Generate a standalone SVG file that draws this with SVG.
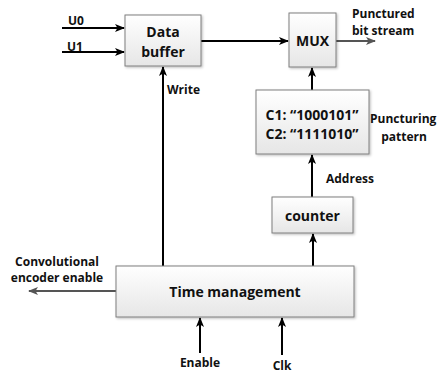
<svg xmlns="http://www.w3.org/2000/svg" width="438" height="373" viewBox="0 0 438 373">
  <defs>
    <linearGradient id="boxFill" x1="0" y1="0" x2="0" y2="1">
      <stop offset="0" stop-color="#ffffff"/>
      <stop offset="1" stop-color="#e6e6e6"/>
    </linearGradient>
    <filter id="shadow" x="-10%" y="-10%" width="130%" height="130%">
      <feDropShadow dx="1.2" dy="1.2" stdDeviation="0.8" flood-color="#000" flood-opacity="0.25"/>
    </filter>
    <marker id="arrow" markerWidth="10" markerHeight="8" refX="9" refY="4" orient="auto" markerUnits="userSpaceOnUse">
      <path d="M0,0 L10,4 L0,8 L2.5,4 Z" fill="#000"/>
    </marker>
    <marker id="arrowGray" markerWidth="10" markerHeight="8" refX="9" refY="4" orient="auto" markerUnits="userSpaceOnUse">
      <path d="M0,0 L10,4 L0,8 L2.5,4 Z" fill="#555"/>
    </marker>
  </defs>
  <style>
    .box { fill: url(#boxFill); stroke: #7f7f7f; stroke-width: 1; filter: url(#shadow); }
    .txt { font-family: "Open Sans", "Liberation Sans", sans-serif; font-weight: bold; font-size: 14px; fill: #111; }
    .lbl { font-family: "Open Sans", "Liberation Sans", sans-serif; font-weight: bold; font-size: 12px; fill: #111; }
    .wire { stroke: #000; stroke-width: 2; fill: none; marker-end: url(#arrow); }
    .wireGray { stroke: #555; stroke-width: 2; fill: none; marker-end: url(#arrowGray); }
  </style>

  <!-- connectors and their labels -->
  <g id="connectors">
    <line class="wire" x1="62" y1="28" x2="124" y2="28"/>
    <line class="wire" x1="62" y1="52" x2="124" y2="52"/>
    <line class="wire" x1="201" y1="41" x2="288" y2="41"/>
    <line class="wireGray" x1="336" y1="41" x2="375" y2="41"/>
    <line class="wire" x1="163" y1="266" x2="163" y2="67"/>
    <line class="wire" x1="312" y1="90" x2="312" y2="68"/>
    <line class="wire" x1="312" y1="197" x2="312" y2="155"/>
    <line class="wire" x1="313" y1="266" x2="313" y2="234"/>
    <line class="wireGray" x1="116" y1="291" x2="29" y2="291"/>
    <line class="wire" x1="200" y1="353" x2="200" y2="318"/>
    <line class="wire" x1="282" y1="355" x2="282" y2="318"/>
    <text class="lbl" x="68" y="25">U0</text>
    <text class="lbl" x="67" y="51">U1</text>
    <text class="lbl" x="167" y="94">Write</text>
    <text class="lbl" x="352" y="18">Punctured</text>
    <text class="lbl" x="352" y="35">bit stream</text>
    <text class="lbl" x="370" y="123">Puncturing</text>
    <text class="lbl" x="404" y="141" text-anchor="middle">pattern</text>
    <text class="lbl" x="326" y="183">Address</text>
    <text class="lbl" x="57" y="266" text-anchor="middle">Convolutional</text>
    <text class="lbl" x="57" y="282" text-anchor="middle">encoder enable</text>
    <text class="lbl" x="200" y="367" text-anchor="middle">Enable</text>
    <text class="lbl" x="282" y="370" text-anchor="middle">Clk</text>
  </g>

  <g id="data-buffer">
    <rect class="box" x="125" y="15" width="76" height="51"/>
    <text class="txt" x="163" y="37" text-anchor="middle">Data</text>
    <text class="txt" x="163" y="57" text-anchor="middle">buffer</text>
  </g>

  <g id="mux">
    <rect class="box" x="289" y="13" width="47" height="54"/>
    <text class="txt" x="312.5" y="46" text-anchor="middle">MUX</text>
  </g>

  <g id="pattern-memory">
    <rect class="box" x="256" y="90" width="113" height="64"/>
    <text class="txt" x="312" y="120" text-anchor="middle">C1: “1000101”</text>
    <text class="txt" x="312" y="139" text-anchor="middle">C2: “1111010”</text>
  </g>

  <g id="counter">
    <rect class="box" x="272" y="197" width="81" height="36"/>
    <text class="txt" x="312.5" y="221" text-anchor="middle">counter</text>
  </g>

  <g id="time-management">
    <rect class="box" x="116" y="266" width="238" height="51"/>
    <text class="txt" x="235" y="297" text-anchor="middle">Time management</text>
  </g>
</svg>
